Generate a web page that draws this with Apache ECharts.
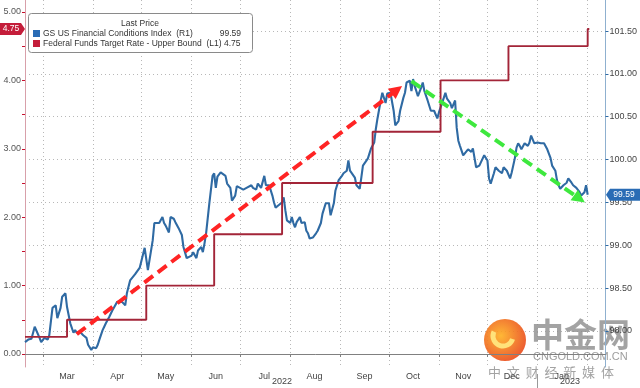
<!DOCTYPE html>
<html><head><meta charset="utf-8">
<script src="https://cdn.jsdelivr.net/npm/echarts@6/dist/echarts.min.js"></script>
<style>html,body{margin:0;padding:0;background:#fff}#c{width:640px;height:388px}</style>
</head><body><div id="c"></div>
<script>
// ---- data ----
const fciDates = ['2022-02-18','2022-02-20','2022-02-22','2022-02-24','2022-02-25','2022-02-27','2022-02-28','2022-03-02','2022-03-04','2022-03-05',
'2022-03-07','2022-03-09','2022-03-10','2022-03-12','2022-03-13','2022-03-15','2022-03-16','2022-03-18','2022-03-20','2022-03-21',
'2022-03-22','2022-03-24','2022-03-26','2022-03-28','2022-03-29','2022-03-31','2022-04-01','2022-04-03','2022-04-04','2022-04-05',
'2022-04-07','2022-04-08','2022-04-09','2022-04-11','2022-04-13','2022-04-14','2022-04-16','2022-04-17','2022-04-19','2022-04-21',
'2022-04-22','2022-04-24','2022-04-27','2022-04-30','2022-05-03','2022-05-05','2022-05-08','2022-05-09','2022-05-10','2022-05-12',
'2022-05-14','2022-05-15','2022-05-16','2022-05-18','2022-05-19','2022-05-21','2022-05-22','2022-05-24','2022-05-26','2022-05-27',
'2022-05-29','2022-05-30','2022-06-01','2022-06-02','2022-06-04','2022-06-05','2022-06-07','2022-06-08','2022-06-09','2022-06-10',
'2022-06-12','2022-06-14','2022-06-15','2022-06-16','2022-06-17','2022-06-19','2022-06-20','2022-06-22','2022-06-23','2022-06-25',
'2022-06-26','2022-06-28','2022-06-29','2022-07-01','2022-07-03','2022-07-05','2022-07-06','2022-07-08','2022-07-09','2022-07-11',
'2022-07-12','2022-07-14','2022-07-15','2022-07-16','2022-07-17','2022-07-19','2022-07-21','2022-07-22','2022-07-23','2022-07-25',
'2022-07-27','2022-07-28','2022-07-29','2022-07-30','2022-08-01','2022-08-02','2022-08-03','2022-08-04','2022-08-05','2022-08-07',
'2022-08-08','2022-08-10','2022-08-11','2022-08-12','2022-08-13','2022-08-15','2022-08-17','2022-08-18','2022-08-20','2022-08-21',
'2022-08-23','2022-08-24','2022-08-25','2022-08-26','2022-08-28','2022-08-29','2022-08-31','2022-09-02','2022-09-03','2022-09-05',
'2022-09-06','2022-09-07','2022-09-08','2022-09-10','2022-09-11','2022-09-13','2022-09-14','2022-09-15','2022-09-16','2022-09-18',
'2022-09-19','2022-09-20','2022-09-22','2022-09-23','2022-09-24','2022-09-26','2022-09-27','2022-09-29','2022-09-30','2022-10-02',
'2022-10-04','2022-10-05','2022-10-07','2022-10-08','2022-10-10','2022-10-11','2022-10-12','2022-10-14','2022-10-15','2022-10-16',
'2022-10-17','2022-10-18','2022-10-19','2022-10-21','2022-10-22','2022-10-23','2022-10-25','2022-10-27','2022-10-28','2022-10-29',
'2022-10-31','2022-11-01','2022-11-02','2022-11-04','2022-11-05','2022-11-06','2022-11-08','2022-11-09','2022-11-11','2022-11-12',
'2022-11-13','2022-11-14','2022-11-16','2022-11-17','2022-11-19','2022-11-21','2022-11-22','2022-11-23','2022-11-24','2022-11-26',
'2022-11-27','2022-11-29','2022-11-30','2022-12-01','2022-12-02','2022-12-03','2022-12-05','2022-12-06','2022-12-08','2022-12-10',
'2022-12-11','2022-12-13','2022-12-15','2022-12-16','2022-12-18','2022-12-19','2022-12-20','2022-12-21','2022-12-22','2022-12-24',
'2022-12-26','2022-12-27','2022-12-28','2022-12-29','2022-12-30','2023-01-01','2023-01-03','2023-01-04','2023-01-05','2023-01-06',
'2023-01-07','2023-01-09','2023-01-10','2023-01-11','2023-01-12','2023-01-13','2023-01-14','2023-01-15','2023-01-17','2023-01-19',
'2023-01-20','2023-01-21','2023-01-22','2023-01-23','2023-01-25','2023-01-27','2023-01-28','2023-01-29','2023-01-30','2023-01-31',
'2023-02-01'];
const fciValues = [97.87,97.90,97.91,98.05,98.06,97.92,97.87,97.92,97.90,97.95,
98.27,98.30,98.15,98.27,98.40,98.44,98.28,98.09,97.98,98.01,
97.98,97.99,97.95,97.92,97.84,97.78,97.81,97.80,97.84,97.90,
98.01,98.05,98.09,98.16,98.24,98.22,98.34,98.36,98.34,98.30,
98.44,98.59,98.66,98.74,98.97,98.71,99.06,99.26,99.27,99.26,
99.33,99.26,99.23,99.15,99.33,99.31,99.27,99.20,99.12,98.98,
98.85,98.84,98.88,98.92,98.85,98.94,98.98,98.92,99.02,99.14,
99.49,99.81,99.84,99.67,99.80,99.85,99.85,99.81,99.72,99.67,
99.52,99.58,99.69,99.67,99.65,99.67,99.65,99.70,99.67,99.65,
99.72,99.67,99.66,99.81,99.70,99.70,99.58,99.50,99.44,99.47,
99.50,99.56,99.41,99.29,99.26,99.33,99.26,99.21,99.27,99.33,
99.26,99.27,99.17,99.14,99.08,99.09,99.14,99.17,99.26,99.37,
99.49,99.47,99.49,99.35,99.49,99.64,99.76,99.81,99.84,99.87,
99.99,99.87,99.85,99.79,99.70,99.66,99.79,99.93,99.91,100.01,
100.07,100.13,100.20,100.36,100.48,100.69,100.78,100.66,100.77,100.78,
100.57,100.40,100.45,100.57,100.72,100.78,100.90,100.92,100.80,100.94,
100.86,100.80,100.74,100.84,100.90,100.80,100.69,100.57,100.55,100.57,
100.48,100.55,100.57,100.72,100.78,100.71,100.66,100.60,100.69,100.37,
100.22,100.16,100.05,100.07,100.12,100.09,100.13,100.02,99.91,99.93,
99.97,100.05,100.07,99.99,99.78,99.72,99.84,99.91,99.87,99.84,
99.91,99.87,99.78,99.85,100.02,100.14,100.19,100.16,100.12,100.19,
100.16,100.20,100.28,100.30,100.19,100.20,100.19,100.21,100.19,100.20,
100.12,100.02,99.93,99.91,99.87,99.76,99.70,99.66,99.70,99.73,
99.78,99.79,99.73,99.70,99.67,99.62,99.58,99.58,99.62,99.70,
99.59];
const ffrDates = ['2022-02-18','2022-03-16','2022-05-04','2022-06-15','2022-07-27','2022-09-21','2022-11-02','2022-12-14','2023-02-01','2023-02-02'];
const ffrValues = [0.25,0.50,1.00,1.75,2.50,3.25,4.00,4.50,4.75,4.75];

const xRange = ['2022-02-18','2023-02-12'];
const leftRange = [-0.19, 5.175];
const rightRange = [97.58, 101.862];
const leftLabels = [0,1,2,3,4,5];
const leftTicks = [0,0.5,1,1.5,2,2.5,3,3.5,4,4.5,5];
const rightLabels = [98,98.5,99,99.5,100,100.5,101,101.5];
const monthStarts = ['2022-03-01','2022-04-01','2022-05-01','2022-06-01','2022-07-01','2022-08-01','2022-09-01','2022-10-01','2022-11-01','2022-12-01','2023-01-01','2023-02-01'];
const monthLabelDates = ['2022-03-16','2022-04-16','2022-05-16','2022-06-16','2022-07-16','2022-08-16','2022-09-16','2022-10-16','2022-11-16','2022-12-16','2023-01-16'];
const monthLabels = ['Mar','Apr','May','Jun','Jul','Aug','Sep','Oct','Nov','Dec','Jan'];
const yearLabelDates = ['2022-07-27','2023-01-21'];
const yearLabels = ['2022','2023'];
const yearBreaks = ['2023-01-01'];
const redArrow = [['2022-03-22',0.29],['2022-10-06',3.86]];
const greenArrow = [['2022-10-15',3.99],['2023-01-27',2.27]];
const fciName = 'GS US Financial Conditions Index  (R1)';
const ffrName = 'Federal Funds Target Rate - Upper Bound  (L1)';

// ---- helpers ----
const ts = s => { const p = s.split('-').map(Number); return new Date(p[0], p[1]-1, p[2]).getTime(); };
const FONT = 'Liberation Sans, Arial, sans-serif';
const BLUE = '#2f6aa3', RED = '#a32538';
const fciData = fciDates.map((d,i) => [ts(d), fciValues[i]]);
const ffrData = ffrDates.map((d,i) => [ts(d), ffrValues[i]]);
const monthLabelTs = monthLabelDates.map(ts);
const yearLabelTs = yearLabelDates.map(ts);
const near = (arr, v) => arr.findIndex(t => Math.abs(t - v) < 43200000);

const chart = echarts.init(document.getElementById('c'), null, {renderer:'canvas'});
const option = {
  animation: false,
  textStyle: {fontFamily: FONT},
  grid: {left: 25, right: 32, top: 0, bottom: 21, containLabel: false},
  xAxis: [{
    type: 'value', min: ts(xRange[0]), max: ts(xRange[1]),
    axisLine: {show: true, lineStyle: {color: '#808080', width: 1}},
    axisTick: {show: true, customValues: monthStarts.map(ts), length: 3, lineStyle: {color: '#808080'}},
    axisLabel: {customValues: monthLabelTs, margin: 5, fontSize: 9, color: '#444', fontFamily: FONT,
      formatter: v => { const i = near(monthLabelTs, v); return i >= 0 ? monthLabels[i] : ''; }},
    splitLine: {show: true, lineStyle: {color: '#b8b8b8', type: [1, 3], width: 1}}
  }, {
    type: 'value', min: ts(xRange[0]), max: ts(xRange[1]), position: 'bottom', offset: 7,
    axisLine: {show: false},
    axisTick: {show: true, customValues: yearBreaks.map(ts), length: 14, lineStyle: {color: '#999'}},
    axisLabel: {customValues: yearLabelTs, margin: 3, fontSize: 9, color: '#444', fontFamily: FONT,
      formatter: v => { const i = near(yearLabelTs, v); return i >= 0 ? yearLabels[i] : ''; }},
    splitLine: {show: false}
  }],
  yAxis: [{
    type: 'value', position: 'left', min: leftRange[0], max: leftRange[1],
    axisLine: {show: true, lineStyle: {color: '#d8a0aa', width: 1}},
    axisTick: {show: true, customValues: leftTicks, length: 3, lineStyle: {color: '#c8102e'}},
    axisLabel: {customValues: leftLabels, formatter: v => v.toFixed(2), fontSize: 9, color: '#555', margin: 4, fontFamily: FONT},
    splitLine: {show: false}
  }, {
    type: 'value', position: 'right', min: rightRange[0], max: rightRange[1],
    axisLine: {show: true, lineStyle: {color: '#8fb0cf', width: 1}},
    axisTick: {show: true, customValues: rightLabels, length: 3, lineStyle: {color: '#2f6aa3'}},
    axisLabel: {customValues: rightLabels, formatter: v => v.toFixed(2), fontSize: 9, color: '#444', margin: 4, fontFamily: FONT},
    splitLine: {show: true, lineStyle: {color: '#b8b8b8', type: [1, 3], width: 1}}
  }],
  series: [{
    name: ffrName, type: 'line', xAxisIndex: 0, yAxisIndex: 0, step: 'end',
    data: ffrData, showSymbol: false, symbol: 'none',
    lineStyle: {color: RED, width: 1.9}, z: 3,
    markLine: {
      silent: true, animation: false, symbol: ['none', 'triangle'], symbolSize: [13, 13],
      label: {show: false},
      data: [
        [{coord: [ts(redArrow[0][0]), redArrow[0][1]], lineStyle: {color: '#ff2424', width: 4, type: [11, 6]}, itemStyle: {color: '#ff2424'}},
         {coord: [ts(redArrow[1][0]), redArrow[1][1]]}],
        [{coord: [ts(greenArrow[0][0]), greenArrow[0][1]], lineStyle: {color: '#3ee83e', width: 4, type: [11, 6]}, itemStyle: {color: '#3ee83e'}},
         {coord: [ts(greenArrow[1][0]), greenArrow[1][1]]}]
      ]
    }
  }, {
    name: fciName, type: 'line', xAxisIndex: 0, yAxisIndex: 1,
    data: fciData, showSymbol: false, symbol: 'none',
    lineStyle: {color: BLUE, width: 2.1}, z: 2
  }]
};
chart.setOption(option);

// tags and legend box
const lastFFR = ffrValues[ffrValues.length - 1];
const lastFCI = fciValues[fciValues.length - 1];
const yL = chart.convertToPixel({yAxisIndex: 0}, lastFFR);
const yR = chart.convertToPixel({yAxisIndex: 1}, lastFCI);
chart.setOption({
  graphic: [
    {type: 'polygon', shape: {points: [[0, yL-6],[21, yL-6],[25, yL],[21, yL+6],[0, yL+6]]}, style: {fill: '#c41d3a'}, z: 100},
    {type: 'text', x: 11, y: yL, style: {text: lastFFR.toFixed(2), fill: '#fff', fontSize: 8.5, fontFamily: FONT, align: 'center', verticalAlign: 'middle'}, z: 101},
    {type: 'polygon', shape: {points: [[606, yR],[610, yR-6],[640, yR-6],[640, yR+6],[610, yR+6]]}, style: {fill: '#2a6cb5'}, z: 100},
    {type: 'text', x: 624, y: yR, style: {text: lastFCI.toFixed(2), fill: '#fff', fontSize: 8.5, fontFamily: FONT, align: 'center', verticalAlign: 'middle'}, z: 101},
    {type: 'group', x: 28, y: 13, z: 100, children: [
      {type: 'rect', shape: {x: 0.5, y: 0.5, width: 224, height: 39, r: 3}, style: {fill: '#fff', stroke: '#8a8a8a', lineWidth: 1}},
      {type: 'text', x: 112, y: 6, style: {text: 'Last Price', fill: '#333', fontSize: 8.5, fontFamily: FONT, align: 'center'}},
      {type: 'rect', shape: {x: 5, y: 17, width: 7, height: 7}, style: {fill: '#2a6cb5'}},
      {type: 'text', x: 15, y: 16, style: {text: fciName, fill: '#333', fontSize: 8.5, fontFamily: FONT}},
      {type: 'text', x: 213, y: 16, style: {text: lastFCI.toFixed(2), fill: '#333', fontSize: 8.5, fontFamily: FONT, align: 'right'}},
      {type: 'rect', shape: {x: 5, y: 27, width: 7, height: 7}, style: {fill: '#c41d3a'}},
      {type: 'text', x: 15, y: 26, style: {text: ffrName + ' ' + lastFFR.toFixed(2), fill: '#333', fontSize: 8.5, fontFamily: FONT}}
    ]},
    {type: 'group', x: 0, y: 0, z: 90, silent: true, children: [
      {type: 'circle', shape: {cx: 505, cy: 340, r: 21}, style: {fill: new echarts.graphic.RadialGradient(0.4, 0.4, 0.7, [{offset: 0, color: '#ffb020'}, {offset: 1, color: '#e8401a'}]), opacity: 0.9}},
      {type: 'arc', shape: {cx: 503, cy: 336, r: 10, startAngle: 0.3, endAngle: 3.6}, style: {stroke: '#ffe27a', lineWidth: 5, fill: null}},
      {type: 'text', x: 531, y: 318, style: {text: '中金网', fill: 'rgba(140,140,140,0.8)', fontSize: 33, fontWeight: 'bold', fontFamily: 'Noto Sans CJK SC'}},
      {type: 'text', x: 533, y: 351, style: {text: 'CNGOLD.COM.CN', fill: 'rgba(140,140,140,0.85)', fontSize: 11, fontFamily: FONT}},
      {type: 'text', x: 488, y: 366, style: {text: '中  文  财  经  新  媒  体', fill: 'rgba(140,140,140,0.8)', fontSize: 13, fontFamily: 'Noto Sans CJK SC'}}
    ]}
  ]
});
</script></body></html>
